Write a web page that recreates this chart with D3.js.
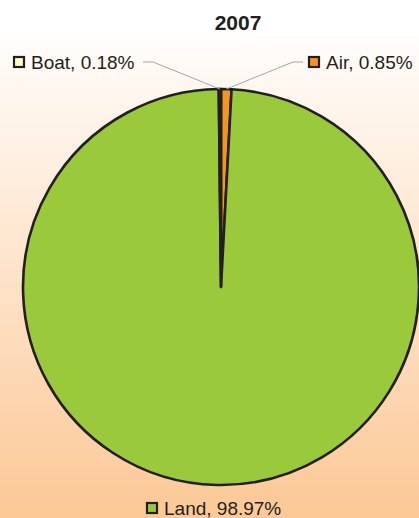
<!DOCTYPE html>
<html>
<head>
<meta charset="utf-8">
<script src="https://cdn.jsdelivr.net/npm/d3@7"></script>
<style>
  body { margin: 0; background: #fff; }
  svg { display: block; }
  text { font-family: 'Liberation Sans', Arial, sans-serif; }
</style>
</head>
<body>
<svg id="chart" width="419" height="518"></svg>
<script>
const title = '2007';
const categories = ['Air', 'Land', 'Boat'];
const shares = [0.85, 98.97, 0.18];
const colors = ['#f7941d', '#9aca3c', '#ffffcc'];

const svg = d3.select('#chart');
const width = +svg.attr('width');
const height = +svg.attr('height');
const ink = '#231f20';

const cx = 221;
const cy = 287;
const radius = 198;

// background gradient
const defs = svg.append('defs');
const grad = defs.append('linearGradient')
  .attr('id', 'bg')
  .attr('x1', 0).attr('y1', 0)
  .attr('x2', 0).attr('y2', 1);
grad.append('stop').attr('offset', '0%').attr('stop-color', '#fffdfb');
grad.append('stop').attr('offset', '100%').attr('stop-color', '#fcc896');

svg.append('rect')
  .attr('x', 0).attr('y', 36)
  .attr('width', width).attr('height', height - 36)
  .attr('fill', 'url(#bg)');

svg.append('text')
  .attr('x', 238)
  .attr('y', 30)
  .attr('text-anchor', 'middle')
  .attr('font-weight', 'bold')
  .attr('font-size', 21)
  .attr('fill', ink)
  .text(title);

const data = categories.map((c, i) => ({ name: c, value: shares[i], color: colors[i] }));

const pie = d3.pie()
  .sort(null)
  .value(d => d.value);

const arc = d3.arc()
  .innerRadius(0)
  .outerRadius(radius);

const arcs = pie(data);

const g = svg.append('g').attr('transform', `translate(${cx},${cy})`);

g.selectAll('path')
  .data(arcs)
  .enter()
  .append('path')
  .attr('d', arc)
  .attr('fill', d => d.data.color)
  .attr('stroke', ink)
  .attr('stroke-width', 2.6)
  .attr('stroke-linejoin', 'round');

// label layout: swatch x, text baseline y, leader elbow (or null)
const labelLayout = {
  Boat: { x: 13, y: 69, elbow: [[143, 62], [153, 62]] },
  Air: { x: 308, y: 69, elbow: [[303, 62], [293, 62]] },
  Land: { x: 146, y: 515, elbow: null },
};

const fmt = d3.format('.2f');
const point = d3.arc().innerRadius(radius).outerRadius(radius);

arcs.forEach((d) => {
  const lay = labelLayout[d.data.name];
  if (lay.elbow) {
    const [px, py] = point.centroid(d);
    const pts = lay.elbow.concat([[cx + px, cy + py]]);
    svg.append('path')
      .attr('d', d3.line()(pts))
      .attr('fill', 'none')
      .attr('stroke', '#a6a6a6')
      .attr('stroke-width', 1);
  }
  svg.append('rect')
    .attr('x', lay.x + 1)
    .attr('y', lay.y - 12)
    .attr('width', 10)
    .attr('height', 10)
    .attr('fill', d.data.color)
    .attr('stroke', ink)
    .attr('stroke-width', 2.2);
  svg.append('text')
    .attr('x', lay.x + 18)
    .attr('y', lay.y)
    .attr('font-size', 19)
    .attr('fill', ink)
    .text(`${d.data.name}, ${fmt(d.data.value)}%`);
});
</script>
</body>
</html>
